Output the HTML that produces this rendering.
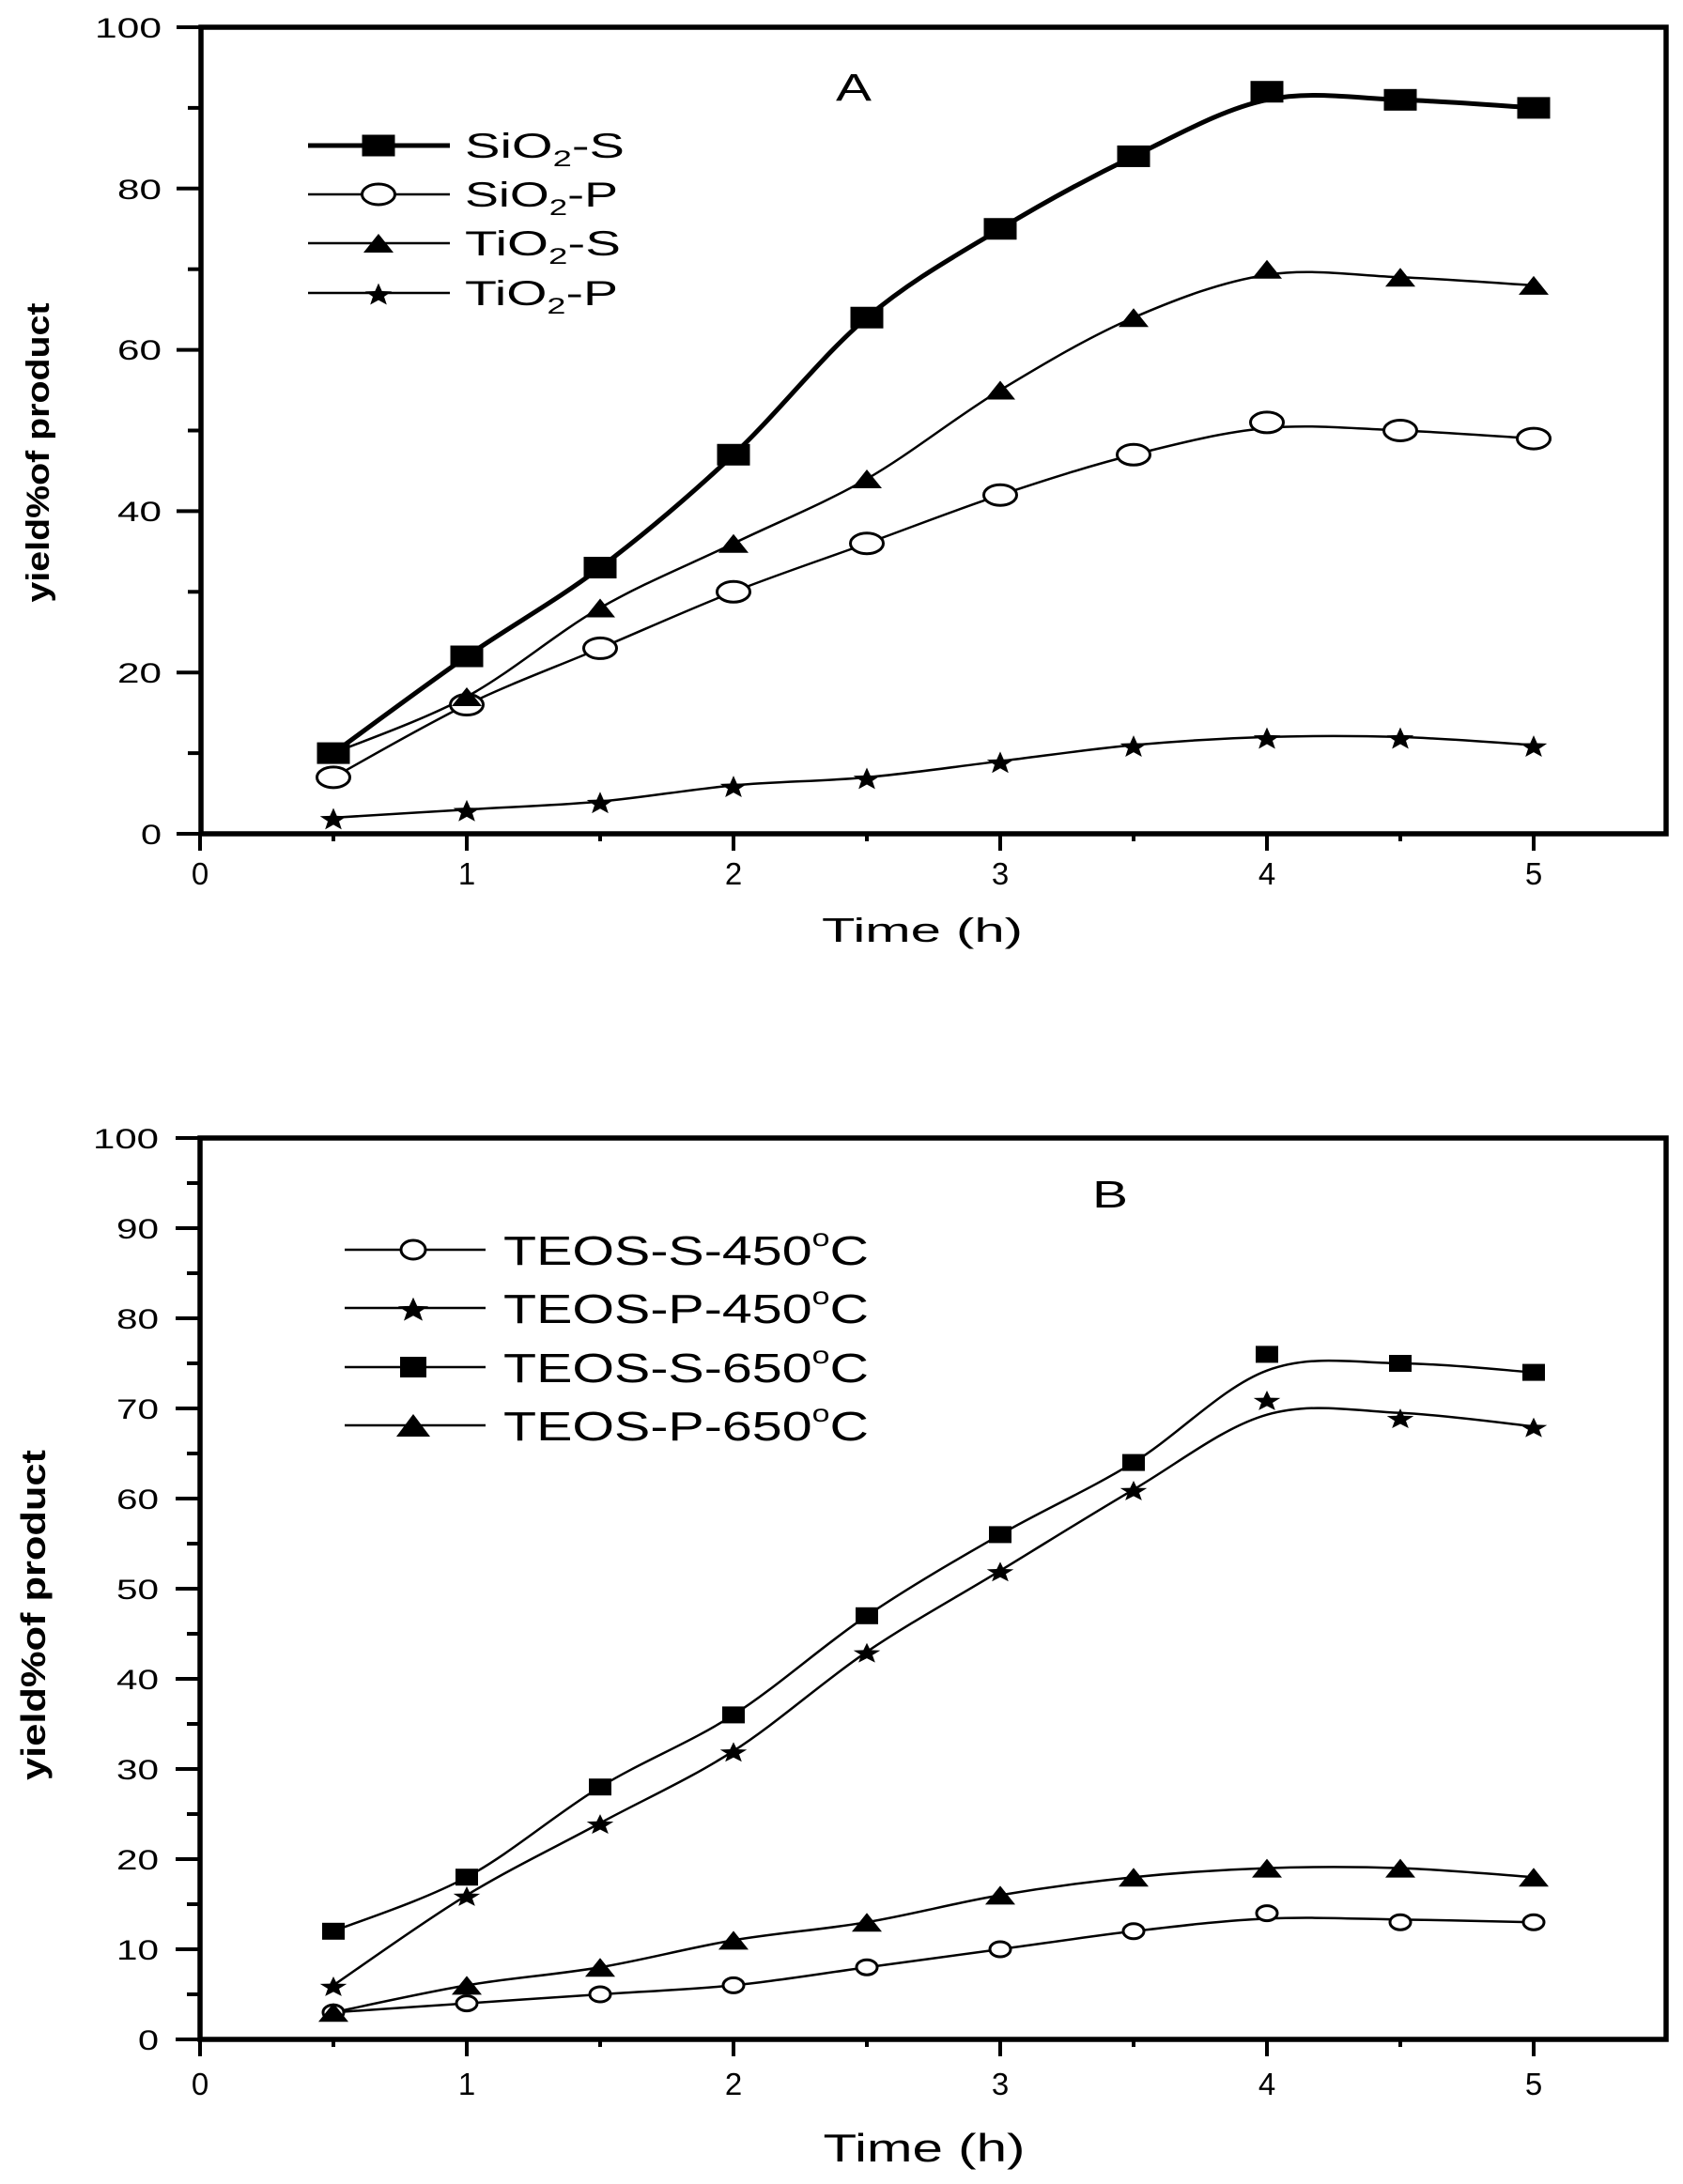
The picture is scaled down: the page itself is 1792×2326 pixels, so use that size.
<!DOCTYPE html>
<html><head><meta charset="utf-8"><style>
html,body{margin:0;padding:0;background:#fff;}
svg{display:block;}
text{font-family:"Liberation Sans",Arial,sans-serif;fill:#000;}
</style></head><body>
<svg id="s" xmlns="http://www.w3.org/2000/svg" width="1792" height="2326" viewBox="0 0 1792 2326">
<rect width="1792" height="2326" fill="#fff"/>
<g id="ga"></g>
<g id="gb"></g>
<!-- Chart A texts -->
<g font-size="30" text-anchor="end">
<text x="172" y="899" textLength="22" lengthAdjust="spacingAndGlyphs">0</text>
<text x="172" y="727" textLength="47" lengthAdjust="spacingAndGlyphs">20</text>
<text x="172" y="555" textLength="47" lengthAdjust="spacingAndGlyphs">40</text>
<text x="172" y="383" textLength="47" lengthAdjust="spacingAndGlyphs">60</text>
<text x="172" y="212" textLength="47" lengthAdjust="spacingAndGlyphs">80</text>
<text x="172" y="40" textLength="71" lengthAdjust="spacingAndGlyphs">100</text>
</g>
<g font-size="33" text-anchor="middle">
<text x="213" y="942">0</text><text x="497" y="942">1</text><text x="781" y="942">2</text><text x="1065" y="942">3</text><text x="1349" y="942">4</text><text x="1633" y="942">5</text>
</g>
<text x="982" y="1003" font-size="36" text-anchor="middle" textLength="214" lengthAdjust="spacingAndGlyphs">Time (h)</text>
<text x="909" y="107" font-size="41" text-anchor="middle" textLength="38" lengthAdjust="spacingAndGlyphs">A</text>
<text transform="translate(52,482) rotate(-90)" font-size="34" font-weight="bold" text-anchor="middle" textLength="319" lengthAdjust="spacingAndGlyphs">yield%of product</text>
<g font-size="37">
<text x="495" y="168" textLength="170" lengthAdjust="spacingAndGlyphs">SiO<tspan font-size="24" dy="9">2</tspan><tspan dy="-9">-S</tspan></text>
<text x="495" y="220" textLength="163" lengthAdjust="spacingAndGlyphs">SiO<tspan font-size="24" dy="9">2</tspan><tspan dy="-9">-P</tspan></text>
<text x="495" y="272" textLength="166" lengthAdjust="spacingAndGlyphs">TiO<tspan font-size="24" dy="9">2</tspan><tspan dy="-9">-S</tspan></text>
<text x="495" y="325" textLength="163" lengthAdjust="spacingAndGlyphs">TiO<tspan font-size="24" dy="9">2</tspan><tspan dy="-9">-P</tspan></text>
</g>
<!-- Chart B texts -->
<g font-size="33" text-anchor="middle">
<text x="213" y="2231">0</text><text x="497" y="2231">1</text><text x="781" y="2231">2</text><text x="1065" y="2231">3</text><text x="1349" y="2231">4</text><text x="1633" y="2231">5</text>
</g>
<text x="984" y="2302" font-size="42" text-anchor="middle" textLength="215" lengthAdjust="spacingAndGlyphs">Time (h)</text>
<text x="1182" y="1286" font-size="41" text-anchor="middle" textLength="38" lengthAdjust="spacingAndGlyphs">B</text>
<text transform="translate(48,1720) rotate(-90)" font-size="36" font-weight="bold" text-anchor="middle" textLength="352" lengthAdjust="spacingAndGlyphs">yield%of product</text>
<g font-size="44">
<text x="536" y="1347" textLength="389" lengthAdjust="spacingAndGlyphs">TEOS-S-450<tspan font-size="26" dy="-20">o</tspan><tspan dy="20">C</tspan></text>
<text x="536" y="1409" textLength="389" lengthAdjust="spacingAndGlyphs">TEOS-P-450<tspan font-size="26" dy="-20">o</tspan><tspan dy="20">C</tspan></text>
<text x="536" y="1472" textLength="389" lengthAdjust="spacingAndGlyphs">TEOS-S-650<tspan font-size="26" dy="-20">o</tspan><tspan dy="20">C</tspan></text>
<text x="536" y="1534" textLength="389" lengthAdjust="spacingAndGlyphs">TEOS-P-650<tspan font-size="26" dy="-20">o</tspan><tspan dy="20">C</tspan></text>
</g>
<g font-size="30" text-anchor="end">
<text x="169" y="2183" textLength="22" lengthAdjust="spacingAndGlyphs">0</text>
<text x="169" y="2087" textLength="45" lengthAdjust="spacingAndGlyphs">10</text>
<text x="169" y="1991" textLength="45" lengthAdjust="spacingAndGlyphs">20</text>
<text x="169" y="1895" textLength="45" lengthAdjust="spacingAndGlyphs">30</text>
<text x="169" y="1799" textLength="45" lengthAdjust="spacingAndGlyphs">40</text>
<text x="169" y="1703" textLength="45" lengthAdjust="spacingAndGlyphs">50</text>
<text x="169" y="1607" textLength="45" lengthAdjust="spacingAndGlyphs">60</text>
<text x="169" y="1511" textLength="45" lengthAdjust="spacingAndGlyphs">70</text>
<text x="169" y="1415" textLength="45" lengthAdjust="spacingAndGlyphs">80</text>
<text x="169" y="1319" textLength="45" lengthAdjust="spacingAndGlyphs">90</text>
<text x="169" y="1223" textLength="70" lengthAdjust="spacingAndGlyphs">100</text>
</g>
</svg>
<script>
(function(){
var NS="http://www.w3.org/2000/svg";
function el(p,n,a){var e=document.createElementNS(NS,n);for(var k in a)e.setAttribute(k,a[k]);p.appendChild(e);return e;}
function X(t){return 213+284*t;}
function curve(pts){
  var d="M"+pts[0][0]+","+pts[0][1];
  for(var i=0;i<pts.length-1;i++){
    var p0=pts[i-1]||pts[i],p1=pts[i],p2=pts[i+1],p3=pts[i+2]||p2;
    var c1=[p1[0]+(p2[0]-p0[0])/6,p1[1]+(p2[1]-p0[1])/6];
    var c2=[p2[0]-(p3[0]-p1[0])/6,p2[1]-(p3[1]-p1[1])/6];
    d+=" C"+c1[0]+","+c1[1]+" "+c2[0]+","+c2[1]+" "+p2[0]+","+p2[1];
  }
  return d;
}
function marker(g,type,x,y,w,h){
  if(type=="sq")el(g,"rect",{x:x-w/2,y:y-h/2,width:w,height:h,fill:"#000"});
  else if(type=="ci")el(g,"ellipse",{cx:x,cy:y,rx:w/2-1.5,ry:h/2-1.5,fill:"#fff",stroke:"#000","stroke-width":3});
  else if(type=="tr")el(g,"polygon",{points:(x-w/2)+","+(y+h/2)+" "+(x+w/2)+","+(y+h/2)+" "+x+","+(y-h/2),fill:"#000"});
  else if(type=="st"){
    var s="";for(var i=0;i<10;i++){var r=(i%2?0.42:1);var a=-Math.PI/2+i*Math.PI/5;
      s+=(x+Math.cos(a)*r*w/2)+","+(y+0.1*h+Math.sin(a)*r*h/2*1.1)+" ";}
    el(g,"polygon",{points:s,fill:"#000"});
  }
}
function frame(g,l,r,t,b){
  el(g,"rect",{x:l,y:t,width:r-l,height:b-t,fill:"none",stroke:"#000","stroke-width":5.5});
  for(var i=0;i<=11;i++){var x=X(i*0.5);if(x>r)break;
    el(g,"line",{x1:x,y1:b,x2:x,y2:b+(i%2?8:18),stroke:"#000","stroke-width":4});}
}
var T=[0.5,1,1.5,2,2.5,3,3.5,4,4.5,5];
var ga=document.getElementById("ga");
function YA(v){return 888-8.59*v;}
frame(ga,214,1774,29,888);
for(var v=0;v<=100;v+=10){var y=YA(v);el(ga,"line",{x1:214,y1:y,x2:214-(v%20?14:26),y2:y,stroke:"#000","stroke-width":4});}
var A=[
 {d:[10,22,33,47,64,75,84,92,91,90],c:[10,22,33,47,64,75,84,91,91,90],m:"sq",w:5,mw:35,mh:23},
 {d:[7,16,23,30,36,42,47,51,50,49],c:[7,16,23,30,36,42,47,50.3,50,49],m:"ci",w:2.5,mw:38,mh:25},
 {d:[10,17,28,36,44,55,64,70,69,68],c:[10,17,28,36,44,55,64,69.3,69,68],m:"tr",w:2.5,mw:32,mh:20},
 {d:[2,3,4,6,7,9,11,12,12,11],c:[2,3,4,6,7,9,11,12,12,11],m:"st",w:2.5,mw:30,mh:23}];
A.forEach(function(s){el(ga,"path",{d:curve(T.map(function(t,i){return [X(t),YA(s.c[i])];})),fill:"none",stroke:"#000","stroke-width":s.w});});
A.forEach(function(s){T.forEach(function(t,i){marker(ga,s.m,X(t),YA(s.d[i]),s.mw,s.mh);});});
var ly=[155,207,259,312];
A.forEach(function(s,i){el(ga,"line",{x1:328,y1:ly[i],x2:479,y2:ly[i],stroke:"#000","stroke-width":s.w});marker(ga,s.m,403,ly[i],s.mw,s.mh);});
var gb=document.getElementById("gb");
function YB(v){return 2172-9.6*v;}
frame(gb,213,1774,1212,2172);
for(var v=0;v<=100;v+=5){var y=YB(v);el(gb,"line",{x1:213,y1:y,x2:213-(v%10?14:26),y2:y,stroke:"#000","stroke-width":4});}
var B=[
 {d:[3,4,5,6,8,10,12,14,13,13],c:[3,4,5,6,8,10,12,13.4,13.3,13],m:"ci",mw:25,mh:19},
 {d:[6,16,24,32,43,52,61,71,69,68],c:[6,16,24,32,43,52,61,69.3,69.5,68],m:"st",mw:30,mh:21},
 {d:[12,18,28,36,47,56,64,76,75,74],c:[12,18,28,36,47,56,64,74.2,75,74],m:"sq",mw:24,mh:18},
 {d:[3,6,8,11,13,16,18,19,19,18],c:[3,6,8,11,13,16,18,19,19,18],m:"tr",mw:32,mh:20}];
B.forEach(function(s){el(gb,"path",{d:curve(T.map(function(t,i){return [X(t),YB(s.c[i])];})),fill:"none",stroke:"#000","stroke-width":2.5});});
B.forEach(function(s){T.forEach(function(t,i){marker(gb,s.m,X(t),YB(s.d[i]),s.mw,s.mh);});});
var lb=[1331,1393,1456,1518];
B.forEach(function(s,i){el(gb,"line",{x1:367,y1:lb[i],x2:517,y2:lb[i],stroke:"#000","stroke-width":2.5});marker(gb,s.m,440,lb[i],s.mw+4,s.mh+4);});
})();
</script>
</body></html>
